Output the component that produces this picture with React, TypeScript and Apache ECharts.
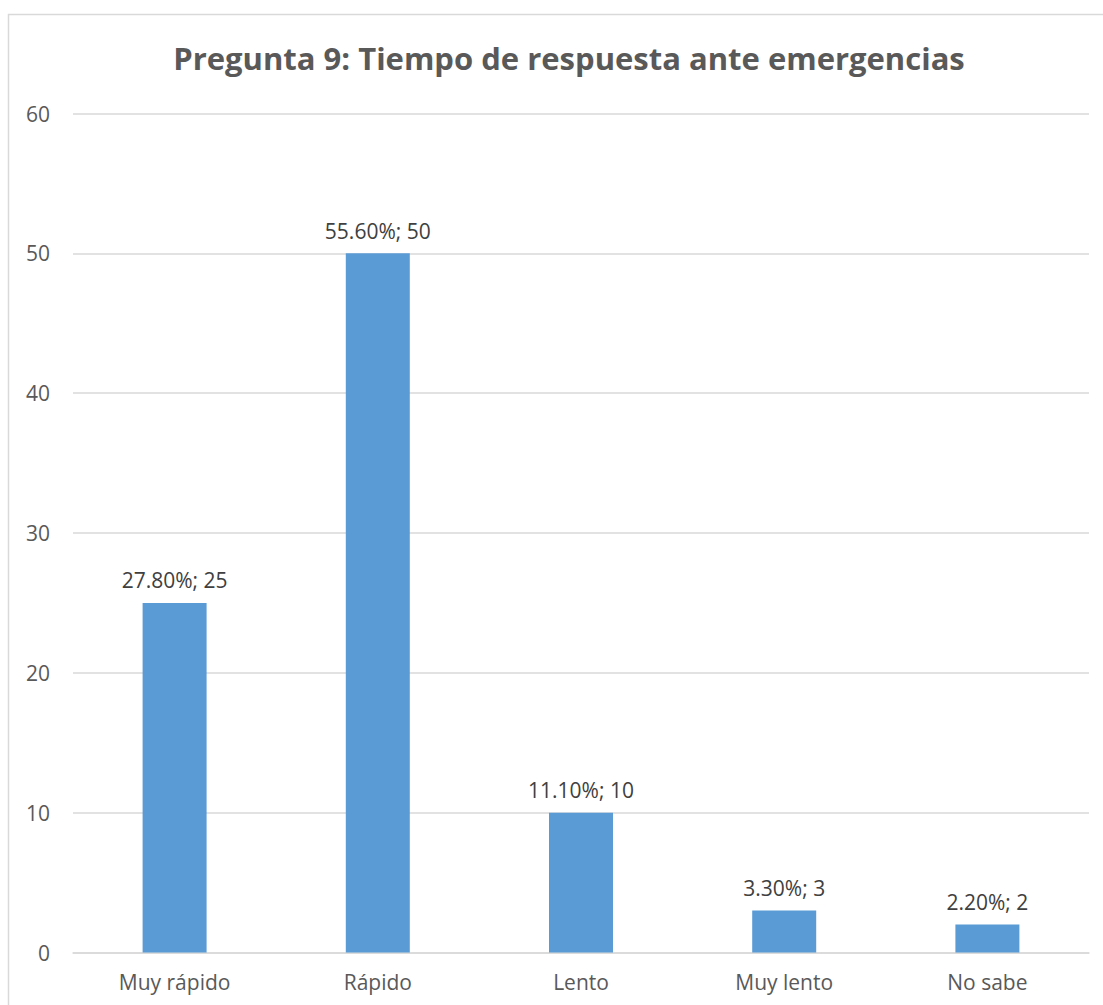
import React, { useEffect, useRef } from "react";
import * as echarts from "echarts";

const categories = ["Muy rápido", "Rápido", "Lento", "Muy lento", "No sabe"];
const counts = [25, 50, 10, 3, 2];
const percents = ["27.80%", "55.60%", "11.10%", "3.30%", "2.20%"];
const yTicks = { min: 0, max: 60, interval: 10 };
const titleText = "Pregunta 9: Tiempo de respuesta ante emergencias";

const FONT = "'Open Sans', 'Noto Sans', sans-serif";

export default function App() {
  const ref = useRef<HTMLDivElement>(null);
  useEffect(() => {
    if (!ref.current) return;
    const chart = echarts.init(ref.current, null, { renderer: "svg" });
    chart.setOption({
      animation: false,
      backgroundColor: "#ffffff",
      title: {
        text: titleText,
        left: 564,
        textAlign: "center",
        top: 37,
        textStyle: {
          fontFamily: FONT,
          fontSize: 31,
          fontWeight: "bold",
          color: "#595959",
        },
      },
      graphic: [
        {
          type: "rect",
          shape: { x: 8.5, y: 14.5, width: 1300, height: 1300 },
          style: { fill: "none", stroke: "#d9d9d9", lineWidth: 1.5 },
          silent: true,
        },
      ],
      grid: { left: 73, right: 14, top: 113.5, bottom: 52.5, containLabel: false },
      xAxis: {
        type: "category",
        data: categories,
        axisLine: { show: true, lineStyle: { color: "#d9d9d9", width: 1.5 } },
        axisTick: { show: false },
        axisLabel: {
          fontFamily: FONT,
          fontSize: 21,
          color: "#595959",
          margin: 19,
        },
      },
      yAxis: {
        type: "value",
        min: yTicks.min,
        max: yTicks.max,
        interval: yTicks.interval,
        axisLine: { show: false },
        axisTick: { show: false },
        splitLine: { lineStyle: { color: "#d9d9d9", width: 1.5 } },
        axisLabel: {
          fontFamily: FONT,
          fontSize: 21,
          color: "#595959",
          margin: 23,
        },
      },
      series: [
        {
          type: "bar",
          data: counts,
          barWidth: 64,
          itemStyle: { color: "#5b9bd5" },
          label: {
            show: true,
            position: "top",
            distance: 12,
            fontFamily: FONT,
            fontSize: 21,
            color: "#404040",
            formatter: (p: any) => `${percents[p.dataIndex]}; ${counts[p.dataIndex]}`,
          },
        },
      ],
    });
    return () => chart.dispose();
  }, []);
  return (
    <div
      ref={ref}
      style={{ position: "fixed", left: 0, top: 0, width: 1103, height: 1005 }}
    />
  );
}
